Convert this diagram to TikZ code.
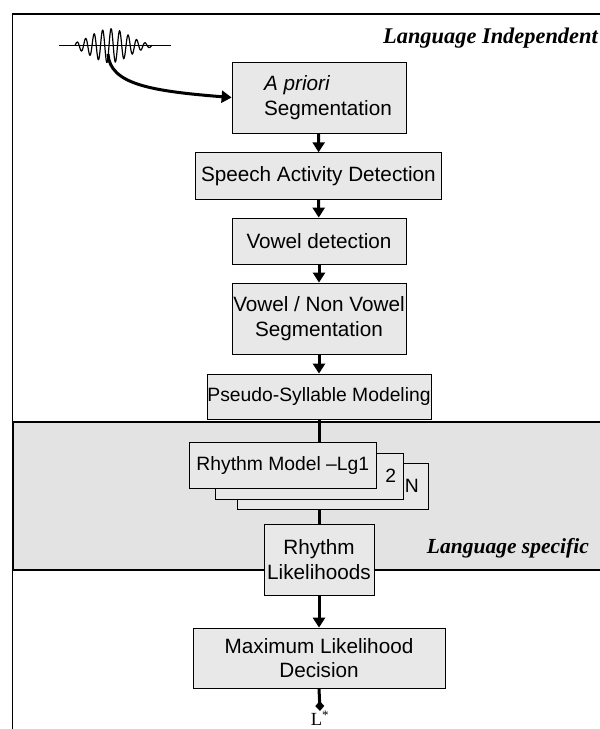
\documentclass[tikz,border=0pt]{standalone}
\usepackage{fontspec}
\setmainfont{Liberation Sans}
\newfontfamily\tms{Liberation Serif}
\usetikzlibrary{arrows.meta}
\definecolor{boxgray}{gray}{0.91}
\definecolor{bandgray}{gray}{0.89}

\begin{document}
\begin{tikzpicture}[x=1pt, y=-1pt,
        blk/.style={draw, line width=0.8pt, fill=boxgray, align=center, inner sep=0pt, font=\fontsize{20.7}{24.5}\selectfont},
        smallblk/.style={blk, font=\fontsize{19.3}{22}\selectfont},
        tag/.style={anchor=east, inner sep=0pt, font=\tms\bfseries\itshape\fontsize{21.5}{24}\selectfont},
        flowarr/.style={line width=3pt, -{Triangle[length=10pt,width=12pt]}},
        flowln/.style={line width=3pt}]
        \useasboundingbox (0,0) rectangle (600,729);
        \draw [line width=1.5pt] (600,14) -- (12.7,14) -- (12.7,729);
        \fill [bandgray] (12.7,422) rectangle (600,570);
        \draw [line width=2pt] (600,422) -- (12.7,422) -- (12.7,570) -- (600,570);
        \node [tag, font=\tms\bfseries\itshape\fontsize{22.4}{24}\selectfont] (T) at (598,38) {Language Independent};
        \node [tag] (S) at (589,548) {Language specific};
        \draw [line width=1.2pt] (59,45.7) -- (171,45.7);
        \draw [line width=1.2pt] plot [smooth, domain=75:152, samples=200] (\x, {45.7-17*exp(-(\x-110)*(\x-110)/700)*sin((\x-75)*42.35)});
        \coordinate (W) at (108,54);
        \node [blk, align=left, minimum width=174pt, minimum height=71pt] (A) at (319,97.5) {\hspace*{18pt}\textit{A priori}\\\hspace*{18pt}Segmentation};
        \node [blk, minimum width=246.7pt, minimum height=46.6pt] (B) at (318.4,176) {Speech Activity Detection};
        \node [blk, minimum width=174pt, minimum height=46pt] (C) at (319,241) {Vowel detection};
        \node [blk, minimum width=174pt, minimum height=71pt] (D) at (319,318.5) {Vowel / Non Vowel\\Segmentation};
        \node [smallblk, minimum width=224pt, minimum height=45pt] (E) at (319,396.5) {Pseudo-Syllable Modeling};
        \node [smallblk, minimum width=190.3pt, minimum height=46pt, text width=172pt, align=right] (H) at (332.85,486) {N};
        \node [smallblk, minimum width=188pt, minimum height=46pt, text width=174pt, align=right] (G) at (309,476) {2};
        \node [smallblk, minimum width=187.7pt, minimum height=45.6pt] (F) at (282.85,465.5) {Rhythm Model --Lg1};
        \node [blk, minimum width=110pt, minimum height=71pt] (J) at (319,559.5) {Rhythm\\Likelihoods};
        \node [blk, minimum width=252pt, minimum height=60pt] (K) at (319,658) {Maximum Likelihood\\Decision};
        \node [anchor=north, inner sep=0pt, font=\tms\fontsize{18.5}{20}\selectfont] (L) at (320,711) {L\textsuperscript{*}};
        \draw [flowarr] (W) .. controls (110,84) and (150,91) .. (A.west);
        \draw [flowarr] (A) -- (B);
        \draw [flowarr] (B) -- (C);
        \draw [flowarr] (C) -- (D);
        \draw [flowarr] (D) -- (E);
        \draw [flowln] (E.south) -- (E.south |- F.north);
        \draw [flowln] (J.north |- H.south) -- (J.north);
        \draw [flowarr] (J) -- (K);
        \draw [line width=3pt, -{Diamond[length=10pt,width=9pt]}] (K.south) -- (L.north);
    \end{tikzpicture}
\end{document}
